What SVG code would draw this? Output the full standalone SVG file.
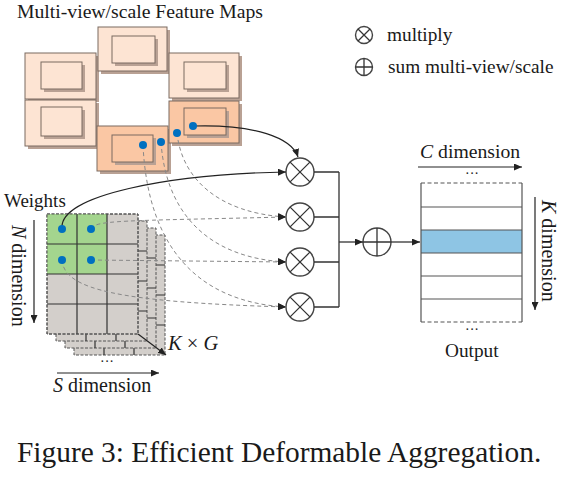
<svg xmlns="http://www.w3.org/2000/svg" width="571" height="482" viewBox="0 0 571 482">
<style>
text{font-family:"Liberation Serif","Times New Roman",serif;fill:#1a1a1a}
.it{font-style:italic}
.fmL{fill:#FDE4D3;stroke:#7a6a60;stroke-width:1}
.fmD{fill:#FAC7A4;stroke:#7a6a60;stroke-width:1}
.sh{fill:#b9a194;stroke:none}
.dot{fill:#0070C0}
.grid{fill:none;stroke:#333;stroke-width:1.2}
.bp{fill:#D3CFCB;stroke:#555;stroke-width:1;stroke-dasharray:3 1.5}
.op{fill:#fff;stroke:#444;stroke-width:1.4}
.sol{fill:none;stroke:#222;stroke-width:1.2}
.dash{fill:none;stroke:#888;stroke-width:1;stroke-dasharray:4 3}
.ln{fill:none;stroke:#333;stroke-width:1.3}
.row{stroke:#555;stroke-width:1.2}
</style>
<defs>
<marker id="ah" markerUnits="userSpaceOnUse" markerWidth="8" markerHeight="7" refX="8" refY="3.5" orient="auto">
<path d="M0,0 L8,3.5 L0,7 z" fill="#222"/>
</marker>
</defs>

<text x="17" y="18" font-size="19.7">Multi-view/scale Feature Maps</text>

<g id="legend">
<circle cx="364" cy="35" r="8.5" class="op"/>
<path d="M358,29 L370,41 M370,29 L358,41" class="ln"/>
<text x="387" y="41" font-size="19.3">multiply</text>
<circle cx="364" cy="67" r="8.5" class="op"/>
<path d="M355.5,67 L372.5,67 M364,58.5 L364,75.5" class="ln"/>
<text x="388" y="73" font-size="19.3">sum multi-view/scale</text>
</g>

<g id="feature-maps">
<g id="fm-lt">
<rect x="28" y="56" width="71" height="46" class="sh"/>
<rect x="25" y="53" width="71" height="46" class="fmL"/>
<rect x="44" y="65" width="41" height="27" class="sh"/>
<rect x="41" y="62" width="41" height="27" class="fmL"/>
</g>
<g id="fm-lb">
<rect x="28" y="103" width="71" height="46" class="sh"/>
<rect x="25" y="100" width="71" height="46" class="fmL"/>
<rect x="44" y="110" width="41" height="29" class="sh"/>
<rect x="41" y="107" width="41" height="29" class="fmL"/>
</g>
<g id="fm-tc">
<rect x="101" y="30" width="69" height="44" class="sh"/>
<rect x="98" y="27" width="69" height="44" class="fmL"/>
<rect x="115" y="39" width="43" height="27" class="sh"/>
<rect x="112" y="36" width="43" height="27" class="fmL"/>
</g>
<g id="fm-rt">
<rect x="172" y="56" width="70" height="45" class="sh"/>
<rect x="169" y="53" width="70" height="45" class="fmL"/>
<rect x="187" y="65" width="42" height="27" class="sh"/>
<rect x="184" y="62" width="42" height="27" class="fmL"/>
</g>
<g id="fm-bc">
<rect x="100" y="129" width="71" height="45" class="sh"/>
<rect x="97" y="126" width="71" height="45" class="fmD"/>
<rect x="115" y="138" width="41" height="27" class="sh"/>
<rect x="112" y="135" width="41" height="27" class="fmD"/>
</g>
<g id="fm-rb">
<rect x="172" y="104" width="70" height="42" class="sh"/>
<rect x="169" y="101" width="70" height="42" class="fmD"/>
<rect x="187" y="111" width="42" height="27" class="sh"/>
<rect x="184" y="108" width="42" height="27" class="fmD"/>
</g>
</g>

<g id="weights">
<text x="4" y="207" font-size="19">Weights</text>
<g id="w-back3">
<rect x="74" y="235" width="91" height="120" class="bp"/>
<path d="M104,235 V355 M134,235 V355 M74,265 H165 M74,295 H165 M74,325 H165" class="grid"/>
</g>
<g id="w-back2">
<rect x="65" y="228" width="91" height="120" class="bp"/>
<path d="M95,228 V348 M125,228 V348 M65,258 H156 M65,288 H156 M65,318 H156" class="grid"/>
</g>
<g id="w-back1">
<rect x="56" y="221" width="91" height="120" class="bp"/>
<path d="M86,221 V341 M116,221 V341 M56,251 H147 M56,281 H147 M56,311 H147" class="grid"/>
</g>
<g id="w-front">
<rect x="47" y="214" width="91" height="120" class="bp"/>
<rect x="47" y="214" width="60" height="60" fill="#A4D58E"/>
<path d="M77,214 V334 M107,214 V334 M47,244 H138 M47,274 H138 M47,304 H138" class="grid"/>
<rect x="47" y="214" width="91" height="120" fill="none" stroke="#555" stroke-width="1" stroke-dasharray="3 1.5"/>
</g>
<line x1="138" y1="334" x2="166" y2="355" class="sol" marker-end="url(#ah)"/>
<text x="168" y="350" font-size="20.5"><tspan class="it">K</tspan> × <tspan class="it">G</tspan></text>
<text x="100" y="366" font-size="14">···</text>
<line x1="57" y1="373" x2="159" y2="373" class="sol" marker-end="url(#ah)"/>
<text x="53" y="392" font-size="20">
<tspan class="it">S</tspan> dimension</text>
<line x1="34" y1="220" x2="34" y2="323" class="sol" marker-end="url(#ah)"/>
<text transform="translate(12,225) rotate(90)" font-size="20"><tspan class="it">N</tspan> dimension</text>
</g>

<g id="mult1"><circle cx="300" cy="172" r="14" class="op"/><path d="M290.1,162.1 L309.9,181.9 M309.9,162.1 L290.1,181.9" class="ln"/></g>
<g id="mult2"><circle cx="300" cy="217" r="14" class="op"/><path d="M290.1,207.1 L309.9,226.9 M309.9,207.1 L290.1,226.9" class="ln"/></g>
<g id="mult3"><circle cx="300" cy="262" r="14" class="op"/><path d="M290.1,252.1 L309.9,271.9 M309.9,252.1 L290.1,271.9" class="ln"/></g>
<g id="mult4"><circle cx="300" cy="307" r="14" class="op"/><path d="M290.1,297.1 L309.9,316.9 M309.9,297.1 L290.1,316.9" class="ln"/></g>
<g id="sum"><circle cx="377" cy="242" r="14" class="op"/><path d="M363,242 L391,242 M377,228 L377,256" class="ln"/></g>

<g id="output">
<text x="420" y="158" font-size="19.7"><tspan class="it">C</tspan> dimension</text>
<line x1="418" y1="167" x2="522" y2="167" class="sol" marker-end="url(#ah)"/>
<text x="465" y="178" font-size="14">···</text>
<rect x="421" y="230" width="101" height="23" fill="#8EC5E4"/>
<path d="M421,183 V322 M522,183 V322" class="row"/>
<path d="M421,183 H522 M421,322 H522" class="row" stroke-dasharray="4 2.5"/>
<path d="M421,207 H522 M421,230 H522 M421,253 H522 M421,276 H522 M421,299 H522" class="row"/>
<text x="465" y="334" font-size="14">···</text>
<text x="445" y="357" font-size="19.3">Output</text>
<line x1="535" y1="197" x2="535" y2="310" class="sol" marker-end="url(#ah)"/>
<text transform="translate(542,200) rotate(90)" font-size="20"><tspan class="it">K</tspan> dimension</text>
</g>

<g id="connectors">
<path d="M193,126 C255,124 292,138 298,157" class="sol" marker-end="url(#ah)"/>
<path d="M62,229 C58,195 170,174 286,172" class="sol" marker-end="url(#ah)"/>
<path d="M177,133 C182,180 220,213 286,217" class="dash" marker-end="url(#ah)"/>
<path d="M161,142 C166,215 210,258 286,262" class="dash" marker-end="url(#ah)"/>
<path d="M143,145 C148,250 200,302 286,307" class="dash" marker-end="url(#ah)"/>
<path d="M91,229 C95,220 120,221 286,217" class="dash" marker-end="url(#ah)"/>
<path d="M91,260 L286,262" class="dash" marker-end="url(#ah)"/>
<path d="M62,260 C64,290 120,302 286,307" class="dash" marker-end="url(#ah)"/>
<path d="M314,172 H339 M314,217 H339 M314,262 H339 M314,307 H339 M339,172 V307" class="ln"/>
<line x1="339" y1="242" x2="363" y2="242" class="ln" marker-end="url(#ah)"/>
<line x1="391" y1="242" x2="420" y2="242" class="ln" marker-end="url(#ah)"/>
</g>

<g id="dots">
<circle cx="193" cy="126" r="4" class="dot"/>
<circle cx="177" cy="133" r="4" class="dot"/>
<circle cx="161" cy="142" r="4" class="dot"/>
<circle cx="143" cy="145" r="4" class="dot"/>
<circle cx="62" cy="229" r="4" class="dot"/>
<circle cx="91" cy="229" r="4" class="dot"/>
<circle cx="62" cy="260" r="4" class="dot"/>
<circle cx="91" cy="260" r="4" class="dot"/>
</g>

<text x="17" y="462" font-size="29.4">Figure 3: Efficient Deformable Aggregation.</text>
</svg>
